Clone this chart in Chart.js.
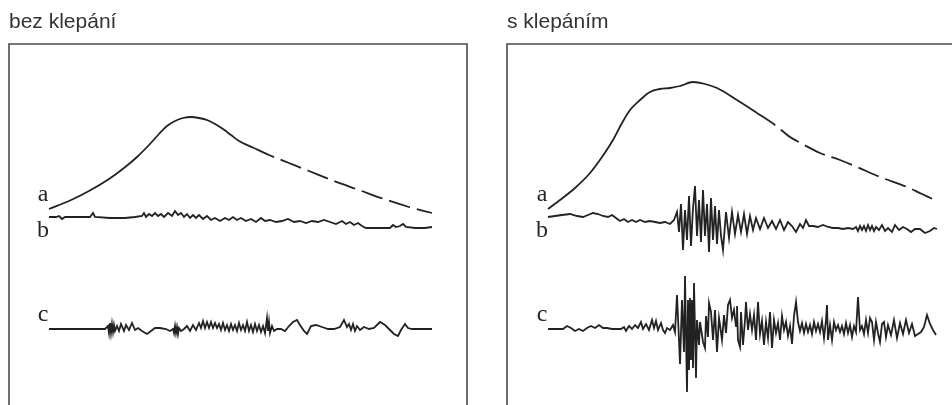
<!DOCTYPE html>
<html>
<head>
<meta charset="utf-8">
<script src="https://cdn.jsdelivr.net/npm/chart.js@4.4.1/dist/chart.umd.min.js"></script>
<style>
  html, body { margin: 0; padding: 0; background: #fff; overflow: hidden; }
  body { width: 952px; height: 405px; position: relative; }
  .panel { position: absolute; top: 0; width: 476px; height: 405px; }
  #leftPanel { left: 0; }
  #rightPanel { left: 498px; }
</style>
</head>
<body>
<div class="panel" id="leftPanel"><canvas id="leftChart"></canvas></div>
<div class="panel" id="rightPanel"><canvas id="rightChart"></canvas></div>
<script>
const panelTitles = ['bez klepání', 's klepáním'];
const traceLabels = ['a', 'b', 'c'];

// bez klepání: [time, signal] pairs
const leftA = [[40,196],[60,204],[80,214],[100,226],[115,237],[128,248],[140,260],[150,271],[158,279],[166,284],[174,287],[182,288],[190,287],[198,285],[206,281],[214,276],[222,270],[230,264],[245,257],[260,250],[280,242],[300,234],[325,224],[350,215],[375,206],[400,198],[423,192]];
const leftB = [[40,188],[47,188],[50,189],[53,186],[56,188],[71,188],[81,188],[84,192],[86,188],[101,187],[116,187],[126,188],[133,189],[135,192],[137,188],[140,191],[143,189],[146,192],[149,189],[152,191],[155,188],[159,192],[163,189],[166,194],[169,190],[172,192],[175,188],[178,191],[181,187],[184,190],[187,187],[190,190],[194,186],[198,189],[202,185],[206,187],[211,184],[216,187],[220,185],[224,188],[228,185],[232,187],[237,184],[242,186],[247,183],[252,187],[256,184],[261,185],[267,183],[273,184],[279,186],[285,183],[291,184],[297,182],[303,184],[309,183],[315,185],[321,183],[327,181],[333,184],[337,181],[341,183],[345,180],[349,182],[353,179],[357,177],[366,177],[376,177],[381,177],[384,180],[387,178],[391,179],[394,181],[397,178],[406,177],[416,177],[423,178]];
const leftC = [[40,76],[61,76],[81,76],[96,76],[99,79],[100,72],[101,82],[102,72],[103,81],[104,73],[105,80],[106,74],[108,79],[110,74],[112,81],[115,74],[117,80],[120,75],[123,82],[126,75],[129,77],[133,74],[138,71],[142,74],[146,77],[151,77],[157,76],[161,74],[164,76],[165,72],[166,79],[167,72],[168,78],[169,71],[170,77],[172,74],[175,76],[178,79],[181,74],[184,80],[187,75],[190,82],[192,77],[194,84],[196,77],[198,83],[200,77],[202,83],[204,77],[206,82],[208,77],[210,81],[212,75],[214,82],[216,75],[218,80],[220,74],[222,81],[224,75],[226,80],[228,74],[230,82],[232,75],[234,80],[236,74],[238,83],[240,74],[242,80],[244,73],[246,81],[248,74],[250,80],[252,73],[254,79],[256,72],[258,87],[259,74],[260,83],[261,72],[263,79],[265,74],[268,76],[272,76],[276,74],[280,79],[284,83],[288,85],[291,80],[295,74],[298,71],[302,79],[307,80],[313,78],[319,76],[325,76],[331,78],[335,85],[338,78],[340,81],[342,75],[344,81],[346,74],[348,79],[351,75],[355,78],[360,76],[365,77],[371,83],[376,80],[381,75],[385,71],[389,69],[392,75],[396,81],[399,77],[403,76],[411,76],[423,76]];

// s klepáním
const rightA = [[41,196],[53,205],[68,217],[83,232],[95,248],[106,265],[115,282],[123,295],[133,305],[143,313],[153,316],[163,317],[173,319],[186,323],[198,321],[210,317],[230,305],[250,292],[268,280],[283,268],[290,264],[313,252],[333,245],[350,238],[373,228],[400,218],[415,211],[430,204]];
const rightB = [[41,188],[48,189],[55,190],[63,191],[70,189],[76,188],[81,190],[86,192],[91,191],[96,189],[101,188],[105,190],[109,187],[113,184],[117,186],[121,183],[125,185],[129,183],[133,185],[138,183],[143,184],[148,183],[153,182],[158,183],[163,181],[167,185],[170,193],[172,173],[174,201],[176,155],[178,195],[180,165],[182,209],[184,159],[186,197],[188,219],[190,169],[192,205],[194,163],[196,215],[198,169],[200,201],[202,153],[204,207],[206,165],[208,199],[210,161],[212,195],[214,169],[216,155],[219,193],[222,167],[225,193],[228,171],[231,190],[234,173],[237,191],[240,171],[243,189],[246,175],[249,187],[253,176],[257,187],[261,177],[265,184],[269,176],[273,185],[277,175],[281,183],[285,179],[289,173],[293,181],[296,177],[299,185],[302,179],[306,179],[311,178],[316,180],[321,178],[326,177],[331,177],[336,176],[341,177],[346,176],[349,178],[351,174],[353,179],[355,175],[357,179],[359,174],[361,180],[363,175],[365,179],[367,174],[369,178],[372,175],[375,180],[378,174],[381,177],[385,173],[388,180],[392,175],[396,178],[400,176],[404,173],[408,176],[413,176],[418,172],[423,174],[427,177],[430,176]];
const rightC = [[41,76],[51,76],[56,76],[60,79],[64,77],[68,74],[72,76],[76,74],[80,77],[84,79],[88,77],[92,80],[96,77],[100,77],[105,76],[110,76],[114,76],[117,78],[119,74],[122,79],[125,76],[128,80],[131,77],[134,83],[136,76],[139,81],[142,75],[145,85],[147,77],[149,84],[151,75],[154,82],[156,75],[158,72],[160,77],[163,75],[166,80],[168,73],[170,110],[172,65],[173,41],[175,105],[177,53],[178,129],[180,13],[181,105],[182,35],[183,107],[184,45],[185,105],[186,37],[187,122],[189,27],[190,85],[192,60],[193,83],[195,70],[196,63],[198,57],[199,89],[201,68],[202,102],[204,93],[206,65],[208,95],[210,53],[212,87],[213,80],[215,65],[217,90],[219,72],[221,100],[223,105],[225,87],[227,95],[229,79],[230,99],[231,65],[233,58],[234,93],[236,60],[238,85],[239,103],[241,75],[243,91],[245,75],[247,90],[249,65],[251,103],[253,71],[255,84],[257,60],[259,83],[261,67],[263,93],[265,57],[267,85],[269,72],[271,82],[273,65],[275,89],[277,75],[279,83],[281,69],[283,79],[285,61],[287,89],[289,103],[291,83],[293,74],[295,82],[297,72],[299,81],[301,73],[303,80],[305,71],[307,83],[309,74],[311,81],[313,73],[315,84],[317,67],[319,85],[320,100],[321,65],[323,80],[325,65],[327,83],[329,75],[331,80],[333,73],[335,79],[337,71],[339,82],[341,72],[343,80],[345,68],[347,79],[349,73],[351,108],[353,75],[355,79],[357,71],[359,85],[361,72],[363,87],[365,83],[367,65],[369,83],[371,72],[373,63],[375,81],[377,83],[379,68],[381,80],[384,70],[387,85],[390,67],[393,82],[396,71],[399,85],[402,72],[405,81],[408,69],[411,71],[414,73],[417,78],[420,90],[423,81],[426,75],[429,70]];

const framePlugin = {
    id: 'frame',
    beforeDatasetsDraw(chart) {
        const { ctx, chartArea: { left, top, right, bottom } } = chart;
        ctx.save();
        ctx.strokeStyle = '#4a4a4a';
        ctx.lineWidth = 1.6;
        ctx.beginPath();
        ctx.moveTo(left, bottom);
        ctx.lineTo(left, top);
        ctx.lineTo(right, top);
        ctx.lineTo(right, bottom);
        ctx.stroke();
        ctx.restore();
    }
};

// letters a, b, c next to the start of each trace
const traceLabelPlugin = {
    id: 'traceLabels',
    afterDatasetsDraw(chart) {
        const ctx = chart.ctx;
        ctx.save();
        ctx.font = '24px "Liberation Serif", serif';
        ctx.fillStyle = '#262626';
        ctx.textAlign = 'center';
        ctx.textBaseline = 'alphabetic';
        chart.data.datasets.forEach((ds, i) => {
            const first = chart.getDatasetMeta(i).data[0];
            const dy = i === 1 ? 20 : -8;
            ctx.fillText(traceLabels[i], first.x - 6, first.y + dy);
        });
        ctx.restore();
    }
};

function makePanel(canvasId, title, traces, dashFrom) {
    const ctx = document.getElementById(canvasId).getContext('2d');
    const datasets = traces.map((trace, i) => ({
        data: trace.map(([x, y]) => ({ x, y })),
        borderColor: '#222',
        borderWidth: 1.8,
        pointRadius: 0,
        fill: false,
        cubicInterpolationMode: i === 0 ? 'monotone' : 'default',
        tension: 0,
        segment: i === 0 ? {
            borderDash: c => c.p0.parsed.x >= dashFrom ? [22, 7] : undefined
        } : undefined
    }));

    return new Chart(ctx, {
        type: 'line',
        data: { datasets },
        options: {
            responsive: true,
            maintainAspectRatio: false,
            animation: false,
            layout: { padding: { left: 9, right: 9, top: 0, bottom: 0 } },
            scales: {
                x: { type: 'linear', min: 0, max: 458, display: false },
                y: { min: 0, max: 361, display: false }
            },
            plugins: {
                legend: { display: false },
                tooltip: { enabled: false },
                title: {
                    display: true,
                    text: title,
                    align: 'start',
                    color: '#333',
                    font: { family: "'Liberation Sans', Arial, sans-serif", size: 21, weight: 'normal' },
                    padding: { top: 10, bottom: 8.8 }
                }
            }
        },
        plugins: [framePlugin, traceLabelPlugin]
    });
}

makePanel('leftChart', panelTitles[0], [leftA, leftB, leftC], 245);
makePanel('rightChart', panelTitles[1], [rightA, rightB, rightC], 250);
</script>
</body>
</html>
